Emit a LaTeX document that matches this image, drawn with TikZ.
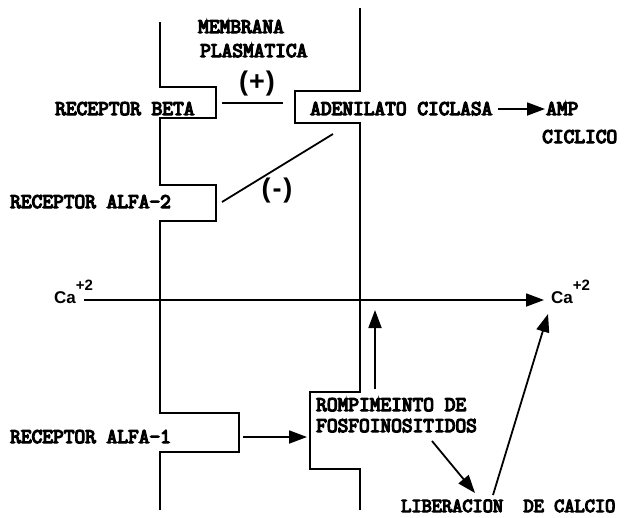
\documentclass[tikz,border=0pt]{standalone}
\usepackage{fontspec}
\newfontfamily\tw{Latin Modern Mono}[FakeBold=6]
\newfontfamily\sansb{Liberation Sans}
\usetikzlibrary{arrows.meta}
\newcommand{\casup}{Ca\raisebox{13pt}{\fontsize{15}{16}\selectfont +2}}
\begin{document}
\begin{tikzpicture}[x=1pt,y=-1pt,
  lbl/.style={anchor=base west, inner sep=0pt, font=\tw\fontsize{20.8}{22}\selectfont},
  memb/.style={line width=1.8pt, line join=miter},
  conn/.style={line width=1.8pt},
  arr/.style={conn, -{Triangle[length=18pt,width=13pt]}},
  sign/.style={inner sep=0pt, font=\sansb\bfseries\fontsize{27}{29}\selectfont},
  ca/.style={inner sep=0pt, anchor=base west, font=\sansb\bfseries\fontsize{17}{18}\selectfont}]
\useasboundingbox (0,0) rectangle (631,517);

% membranes
\draw[memb] (160,22) -- (160,87) -- (216,87) -- (216,118) -- (160,118) -- (160,185)
  -- (216,185) -- (216,221) -- (160,221) -- (160,413) -- (239,413) -- (239,452)
  -- (160,452) -- (160,510);
\draw[memb] (360,8) -- (360,91) -- (295,91) -- (295,123) -- (360,123) -- (360,392)
  -- (310,392) -- (310,469) -- (360,469) -- (360,510);

% labels
\node[lbl] (memb) at (198,33) {MEMBRANA};
\node[lbl] (plas) at (200,57) {PLASMATICA};
\node[sign] (plus) at (257,84) {(\kern1pt+\kern1pt)};
\node[lbl] (rb) at (55,115) {RECEPTOR BETA};
\node[lbl] (ac) at (310,115) {ADENILATO CICLASA};
\node[lbl] (amp) at (546,115) {AMP};
\node[lbl] (cic) at (542,143) {CICLICO};
\node[lbl] (ra2) at (10,208) {RECEPTOR ALFA-2};
\node[sign] (minus) at (277,191) {(\kern2pt-\kern2pt)};
\node[ca] (caL) at (54,303) {\casup};
\node[ca] (caR) at (551,303) {\casup};
\node[lbl] (rf1) at (316,411) {ROMPIMEINTO DE};
\node[lbl] (rf2) at (316,432) {FOSFOINOSITIDOS};
\node[lbl] (ra1) at (10,443) {RECEPTOR ALFA-1};
\node[lbl, font=\tw\fontsize{19.8}{22}\selectfont] (lib) at (401,512) {LIBERACION\ \ DE CALCIO};

% connector endpoints
\coordinate (plusA) at (222,103);
\coordinate (plusB) at (283,103);
\coordinate (minA) at (222,202);
\coordinate (minB) at (333,134);
\coordinate (acE) at (498,109);
\coordinate (ampW) at (545,109);
\coordinate (caLE) at (84,300);
\coordinate (caRW) at (544,300);
\coordinate (rfUp) at (375,389);
\coordinate (rfTop) at (375,310);
\coordinate (ra1E) at (243,437);
\coordinate (rfW) at (307,437);
\coordinate (rfS) at (432,441);
\coordinate (libN) at (475,493);
\coordinate (libNE) at (493,495);
\coordinate (caRS) at (548,314);

% connectors
\draw[conn] (plusA) -- (plusB);
\draw[conn] (minA) -- (minB);
\draw[arr] (acE) -- (ampW);
\draw[arr] (caLE) -- (caRW);
\draw[arr] (rfUp) -- (rfTop);
\draw[arr] (ra1E) -- (rfW);
\draw[arr] (rfS) -- (libN);
\draw[arr] (libNE) -- (caRS);
\end{tikzpicture}
\end{document}
